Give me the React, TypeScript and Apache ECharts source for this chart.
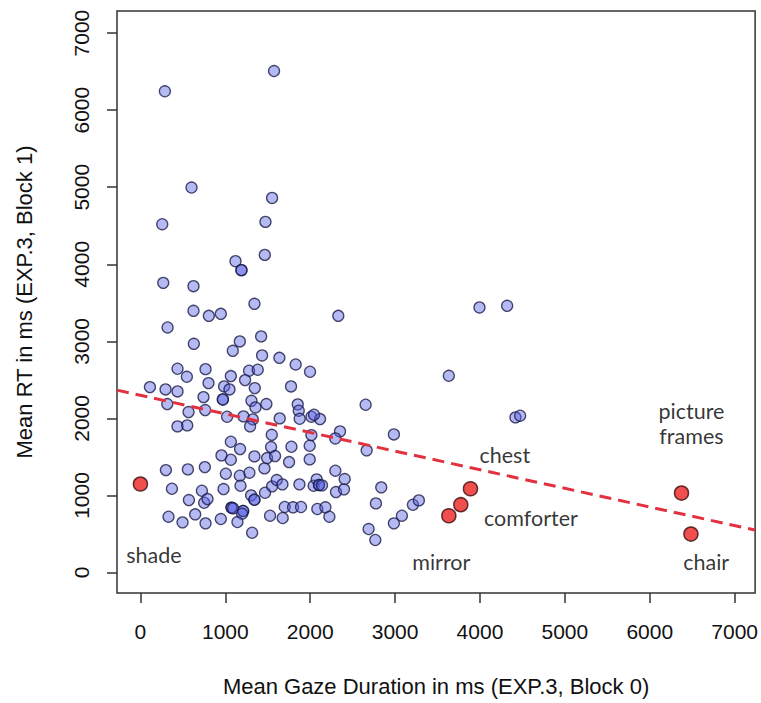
import React, { useEffect, useRef } from "react";
import * as echarts from "echarts";

// Mean gaze duration (x) and mean RT (y) for each object, in ms
const gazeDuration = [
  288, 1574, 602, 1551, 257, 1473, 1120, 1190, 1190, 1465, 269, 625, 625, 806, 947, 1343, 2331,
  320, 629, 1171, 1422, 1088, 1433, 1637, 1829, 1998, 437, 547, 767, 1065, 1280, 1382, 1233, 802,
  112, 296, 437, 986, 1049, 1347, 1774, 743, 971, 971, 316, 1308, 1355, 1484, 1853, 1865, 567, 763,
  1021, 1214, 1324, 1641, 1876, 2014, 2116, 2045, 437, 551, 1292, 1547, 2014, 2351, 2296, 2653,
  2986, 2665, 1065, 1174, 1539, 1779, 1994, 955, 1065, 1343, 1492, 1586, 1751, 1994, 1461, 300,
  559, 759, 1006, 1171, 1284, 2296, 2406, 371, 724, 979, 1179, 1468, 1551, 1606, 1673, 1873, 2041,
  2076, 2104, 2104, 2139, 2304, 2398, 2837, 571, 751, 790, 1304, 1343, 1343, 2774, 3210, 3280, 331,
  496, 645, 767, 947, 1073, 1073, 1092, 1210, 1210, 1198, 1143, 1316, 1527, 1676, 1700, 1798, 1892,
  2084, 2179, 2226, 2688, 2767, 2986, 3080,
  3994, 4320, 3633, 4418, 4473,
];
const meanRT = [
  6245, 6508, 4996, 4861, 4520, 4550, 4040, 3924, 3924, 4122, 3759, 3716, 3396, 3331, 3357, 3487, 3331,
  3180, 2968, 2999, 3064, 2877, 2817, 2786, 2700, 2605, 2644, 2540, 2639, 2549, 2618, 2631, 2497, 2458,
  2406, 2376, 2350, 2415, 2376, 2393, 2415, 2276, 2246, 2246, 2186, 2228, 2142, 2186, 2182, 2099, 2082, 2108,
  2021, 2026, 1987, 2000, 1995, 2021, 1991, 2047, 1896, 1909, 1896, 1787, 1783, 1831, 1740, 2177,
  1792, 1585, 1697, 1602, 1628, 1632, 1645, 1520, 1463, 1507, 1485, 1511, 1433, 1468, 1351, 1329,
  1338, 1368, 1282, 1256, 1295, 1321, 1213, 1087, 1061, 1083, 1126, 1035, 1118, 1200, 1144, 1144, 1126,
  1209, 1135, 1135, 1131, 1044, 1079, 1105, 940, 905, 953, 1001, 944, 944, 897, 879, 936, 724,
  651, 755, 638, 694, 841, 841, 833, 798, 798, 763, 655, 516, 737, 707, 850, 846, 850,
  824, 846, 724, 564, 422, 638, 737,
  3440, 3461, 2553, 2013, 2034,
];

// Highlighted objects (red)
const highlightX = [0, 3633, 3774, 3888, 6374, 6485];
const highlightY = [1148, 737, 880, 1087, 1031, 499];

// Text annotations (centre positions, in data units)
const labelNames = ["shade", "mirror", "comforter", "chest", "picture", "frames", "chair"];
const labelX = [159, 3544, 4600, 4292, 6491, 6491, 6665];
const labelY = [227, 140, 703, 1524, 2102, 1766, 140];

const xTicks = [0, 1000, 2000, 3000, 4000, 5000, 6000, 7000];
const yTicks = [0, 1000, 2000, 3000, 4000, 5000, 6000, 7000];

// Regression line (intercept, slope)
const fitIntercept = 2300;
const fitSlope = -0.2416;

const xMin = -276;
const xMax = 7241;
const yMin = -266;
const yMax = 7287;

export default function App() {
  const ref = useRef<HTMLDivElement>(null);
  useEffect(() => {
    document.body.style.margin = "0";
    if (!ref.current) return;
    const chart = echarts.init(ref.current, null, { renderer: "svg" });
    const blueData = gazeDuration.map((x, i) => [x, meanRT[i]]);
    const redData = highlightX.map((x, i) => [x, highlightY[i]]);
    const labelData = labelNames.map((n, i) => ({ value: [labelX[i], labelY[i]], name: n }));
    const fitData = [
      [xMin, fitIntercept + fitSlope * xMin],
      [xMax, fitIntercept + fitSlope * xMax],
    ];
    const axisFont = "'Liberation Sans', Arial, sans-serif";
    const plain = (v: number) => String(v);
    chart.setOption({
      animation: false,
      backgroundColor: "#ffffff",
      grid: {
        left: 117,
        right: 5,
        top: 11,
        bottom: 110,
        show: true,
        borderColor: "#333",
        borderWidth: 1.5,
        backgroundColor: "transparent",
      },
      xAxis: {
        type: "value",
        min: xMin,
        max: xMax,
        splitLine: { show: false },
        axisLine: { show: false, onZero: false },
        axisTick: { show: true, customValues: xTicks, length: 10, lineStyle: { color: "#333", width: 1.5 } },
        axisLabel: { customValues: xTicks, formatter: plain, fontSize: 21, fontFamily: axisFont, color: "#111", margin: 28 },
        name: "Mean Gaze Duration in ms (EXP.3, Block 0)",
        nameLocation: "middle",
        nameGap: 82,
        nameTextStyle: { fontSize: 22, fontFamily: axisFont, color: "#111" },
      },
      yAxis: {
        type: "value",
        min: yMin,
        max: yMax,
        splitLine: { show: false },
        axisLine: { show: false, onZero: false },
        axisTick: { show: true, customValues: yTicks, length: 10, lineStyle: { color: "#333", width: 1.5 } },
        axisLabel: { customValues: yTicks, formatter: plain, rotate: 90, fontSize: 21, fontFamily: axisFont, color: "#111", margin: 25 },
        name: "Mean RT in ms (EXP.3, Block 1)",
        nameLocation: "middle",
        nameGap: 82,
        nameTextStyle: { fontSize: 22, fontFamily: axisFont, color: "#111" },
      },
      series: [
        {
          type: "scatter",
          data: blueData,
          symbolSize: 11,
          itemStyle: { color: "rgba(88,97,228,0.55)", borderColor: "#1c1c48", borderWidth: 1.3 },
          z: 2,
          silent: true,
        },
        {
          type: "line",
          data: fitData,
          showSymbol: false,
          lineStyle: { color: "#e2323f", width: 3, type: [12, 7] },
          z: 3,
          silent: true,
        },
        {
          type: "scatter",
          data: redData,
          symbolSize: 14,
          itemStyle: { color: "#ee2222", borderColor: "#3a0a0a", borderWidth: 1.5 },
          z: 4,
          silent: true,
        },
        {
          type: "scatter",
          data: labelData,
          symbolSize: 1,
          itemStyle: { color: "rgba(0,0,0,0)" },
          label: {
            show: true,
            position: "inside",
            formatter: (p: any) => p.name,
            fontSize: 21.5,
            lineHeight: 20,
            fontFamily: "Lato, 'Open Sans', sans-serif",
            color: "#000",
          },
          z: 5,
          silent: true,
        },
      ],
    });
    return () => chart.dispose();
  }, []);
  return <div ref={ref} style={{ width: 761, height: 703 }} />;
}
